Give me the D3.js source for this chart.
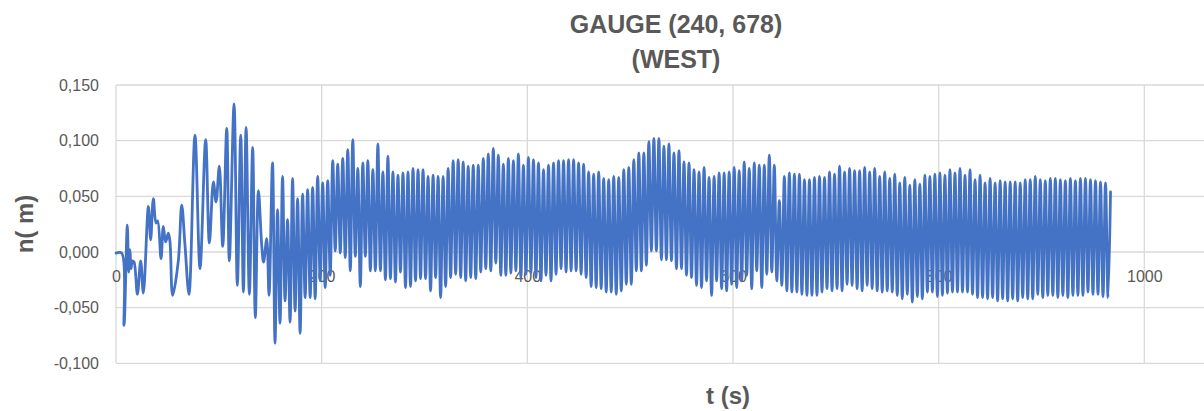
<!DOCTYPE html>
<html>
<head>
<meta charset="utf-8">
<script src="https://cdn.jsdelivr.net/npm/d3@7"></script>
<style>
  html, body { margin: 0; padding: 0; background: #ffffff; overflow: hidden; }
  svg { display: block; }
  text { font-family: "Liberation Sans", Arial, sans-serif; fill: #595959; }
</style>
</head>
<body>
<script>
// ---------------- DATA ----------------
const titleLines = ["GAUGE (240, 678)", "(WEST)"];
const xAxisTitle = "t (s)";
const yAxisTitle = "n( m)";

const xTicks = [0, 200, 400, 600, 800, 1000];
const xTickLabels = ["0", "200", "400", "600", "800", "1000"];
const yTicks = [-0.1, -0.05, 0, 0.05, 0.1, 0.15];
const yTickLabels = ["-0,100", "-0,050", "0,000", "0,050", "0,100", "0,150"];

// irregular start of the record (time s, elevation m)
const earlyT = [0, 5.5, 7.8, 11, 12.3, 13.6, 14.6, 15.9, 17.5, 20.8, 24, 26.6, 31.5, 33.7, 36.3, 38.9, 40.5, 43.8, 46, 48.3, 50.9, 52.5, 55.1, 60.6, 63.9, 67.1, 71, 76.8, 81.7, 87.2, 90.8, 94.7, 97.3, 100.5, 103.8, 107.7, 110.2, 114.8, 118, 121.3, 123.9, 126.5, 129.7, 132.9, 135.5, 138.5, 141.7, 143.5, 146.6, 148.8];
const earlyV = [-0.001, -0.001, -0.066, 0.024, -0.018, 0.002, -0.015, -0.008, -0.009, -0.038, -0.008, -0.037, 0.041, 0.011, 0.048, 0.026, 0.028, -0.006, 0.023, 0.009, 0.017, 0.009, -0.039, -0.008, 0.042, 0.006, -0.038, 0.105, -0.015, 0.101, 0.008, 0.063, 0.045, 0.077, 0.005, 0.111, -0.008, 0.133, -0.030, 0.105, -0.036, 0.112, -0.038, 0.094, -0.059, 0.055, 0.006, -0.009, 0.012, -0.039];

// regular wave train: crest and trough of each wave, sampled every half wave
const waveStart = 152.2;   // time of first crest (s)
const halfWave = 2.44;     // sampling step between crest and trough (s)
const crests = [
  0.080, 0.038, 0.068, 0.029, 0.066, 0.048, 0.052, 0.056, 0.058, 0.068,
  0.062, 0.064, 0.082, 0.079, 0.084, 0.092, 0.101, 0.075, 0.080, 0.082,
  0.074, 0.097, 0.072, 0.086, 0.072, 0.069, 0.071, 0.072, 0.075, 0.074,
  0.074, 0.068, 0.069, 0.068, 0.068, 0.075, 0.082, 0.083, 0.081, 0.077,
  0.078, 0.078, 0.084, 0.088, 0.093, 0.087, 0.079, 0.084, 0.082, 0.088,
  0.078, 0.085, 0.083, 0.080, 0.074, 0.078, 0.080, 0.082, 0.082, 0.083,
  0.083, 0.080, 0.079, 0.072, 0.070, 0.072, 0.066, 0.065, 0.068, 0.067,
  0.074, 0.076, 0.083, 0.089, 0.089, 0.099, 0.102, 0.102, 0.095, 0.097,
  0.089, 0.091, 0.081, 0.080, 0.074, 0.072, 0.076, 0.067, 0.068, 0.071,
  0.071, 0.072, 0.076, 0.073, 0.081, 0.075, 0.080, 0.078, 0.078, 0.087,
  0.078, 0.046, 0.068, 0.071, 0.070, 0.070, 0.065, 0.065, 0.067, 0.068,
  0.067, 0.072, 0.070, 0.077, 0.072, 0.075, 0.073, 0.073, 0.076, 0.072,
  0.075, 0.068, 0.072, 0.066, 0.070, 0.062, 0.067, 0.060, 0.065, 0.061,
  0.069, 0.068, 0.070, 0.071, 0.069, 0.074, 0.071, 0.075, 0.069, 0.074,
  0.065, 0.069, 0.062, 0.066, 0.062, 0.064, 0.063, 0.063, 0.063, 0.062,
  0.065, 0.065, 0.068, 0.065, 0.064, 0.066, 0.066, 0.065, 0.064, 0.066,
  0.064, 0.066, 0.066, 0.065, 0.064, 0.063, 0.062
];
const troughs = [
  -0.082, -0.064, -0.044, -0.063, -0.053, -0.073, -0.041, -0.041, -0.042, -0.026,
  -0.032, -0.021, 0.001, -0.001, -0.005, -0.017, -0.004, -0.031, -0.004, -0.017,
  -0.017, -0.017, -0.025, -0.024, -0.027, -0.018, -0.032, -0.031, -0.026, -0.024,
  -0.024, -0.035, -0.023, -0.041, -0.031, -0.023, -0.020, -0.023, -0.026, -0.023,
  -0.024, -0.018, -0.015, -0.017, -0.010, -0.021, -0.021, -0.019, -0.017, -0.023,
  -0.020, -0.019, -0.023, -0.026, -0.021, -0.026, -0.020, -0.015, -0.018, -0.017,
  -0.017, -0.020, -0.023, -0.031, -0.032, -0.033, -0.036, -0.036, -0.038, -0.035,
  -0.029, -0.029, -0.017, -0.017, -0.012, 0.001, 0.001, -0.007, -0.007, -0.008,
  -0.015, -0.015, -0.021, -0.023, -0.030, -0.032, -0.026, -0.039, -0.026, -0.033,
  -0.035, -0.029, -0.032, -0.026, -0.021, -0.033, -0.017, -0.032, -0.020, -0.018,
  -0.026, -0.030, -0.035, -0.036, -0.036, -0.038, -0.039, -0.039, -0.039, -0.036,
  -0.033, -0.035, -0.033, -0.035, -0.029, -0.030, -0.033, -0.035, -0.030, -0.033,
  -0.035, -0.036, -0.035, -0.036, -0.039, -0.042, -0.038, -0.045, -0.040, -0.042,
  -0.036, -0.036, -0.040, -0.039, -0.037, -0.036, -0.036, -0.036, -0.036, -0.038,
  -0.041, -0.041, -0.042, -0.041, -0.044, -0.042, -0.044, -0.042, -0.044, -0.041,
  -0.042, -0.042, -0.038, -0.041, -0.039, -0.039, -0.041, -0.039, -0.041, -0.039,
  -0.039, -0.039, -0.036, -0.038, -0.038, -0.040, -0.041
];
const finalValue = 0.054;

// ---------------- BUILD SERIES ----------------
const series = earlyT.map((t, i) => ({ t: t, v: earlyV[i] }));
let tt = waveStart;
crests.forEach((c, i) => {
  series.push({ t: tt, v: c });
  tt += halfWave;
  series.push({ t: tt, v: troughs[i] });
  tt += halfWave;
});
series.push({ t: tt, v: finalValue });

// ---------------- CHART ----------------
const W = 1204, H = 411;
const plotLeft = 116, plotTop = 85, plotBottom = 363.3, plotRightVisible = 1204;

const x = d3.scaleLinear().domain([0, 1000]).range([plotLeft, 1144.3]);
const y = d3.scaleLinear().domain([-0.1, 0.15]).range([plotBottom, plotTop]);

const svg = d3.select("body").append("svg").attr("width", W).attr("height", H);
svg.append("rect").attr("width", W).attr("height", H).attr("fill", "#ffffff");

// horizontal gridlines
svg.append("g").selectAll("line").data(yTicks).join("line")
  .attr("x1", plotLeft).attr("x2", plotRightVisible)
  .attr("y1", d => y(d)).attr("y2", d => y(d))
  .attr("stroke", "#d9d9d9").attr("stroke-width", 1.3);

// vertical gridlines
svg.append("g").selectAll("line").data(xTicks).join("line")
  .attr("x1", d => x(d)).attr("x2", d => x(d))
  .attr("y1", plotTop).attr("y2", plotBottom)
  .attr("stroke", "#d9d9d9").attr("stroke-width", 1.3);

// y axis labels
const yAxis = d3.axisLeft(y).tickValues(yTicks)
  .tickFormat((d, i) => yTickLabels[i]).tickSize(0).tickPadding(17);
const gy = svg.append("g").attr("transform", `translate(${plotLeft},0)`).call(yAxis);
gy.select(".domain").remove();
gy.selectAll("text").attr("font-size", 16).attr("fill", "#595959")
  .style("font-family", '"Liberation Sans", Arial, sans-serif');

// x axis labels (drawn at y = 0)
const xAxis = d3.axisBottom(x).tickValues(xTicks)
  .tickFormat((d, i) => xTickLabels[i]).tickSize(0).tickPadding(19);
const gx = svg.append("g").attr("transform", `translate(0,${y(0)})`).call(xAxis);
gx.select(".domain").remove();
gx.selectAll("text").attr("font-size", 16).attr("fill", "#595959")
  .style("font-family", '"Liberation Sans", Arial, sans-serif');

// data line (smoothed, like the spreadsheet's smoothed line)
const line = d3.line().x(d => x(d.t)).y(d => y(d.v)).curve(d3.curveCatmullRom.alpha(0.5));
svg.append("path").datum(series)
  .attr("d", line)
  .attr("fill", "none")
  .attr("stroke", "#4472C4")
  .attr("stroke-width", 2.8)
  .attr("stroke-linejoin", "round")
  .attr("stroke-linecap", "round");

// title
svg.append("text").attr("x", 676).attr("y", 33).attr("text-anchor", "middle")
  .attr("font-size", 25).attr("font-weight", "bold").text(titleLines[0]);
svg.append("text").attr("x", 676).attr("y", 68).attr("text-anchor", "middle")
  .attr("font-size", 25).attr("font-weight", "bold").text(titleLines[1]);

// axis titles
svg.append("text").attr("x", 728).attr("y", 404).attr("text-anchor", "middle")
  .attr("font-size", 24).attr("font-weight", "bold").text(xAxisTitle);
svg.append("text").attr("transform", "translate(33,224) rotate(-90)")
  .attr("text-anchor", "middle")
  .attr("font-size", 24).attr("font-weight", "bold").text(yAxisTitle);
</script>
</body>
</html>
